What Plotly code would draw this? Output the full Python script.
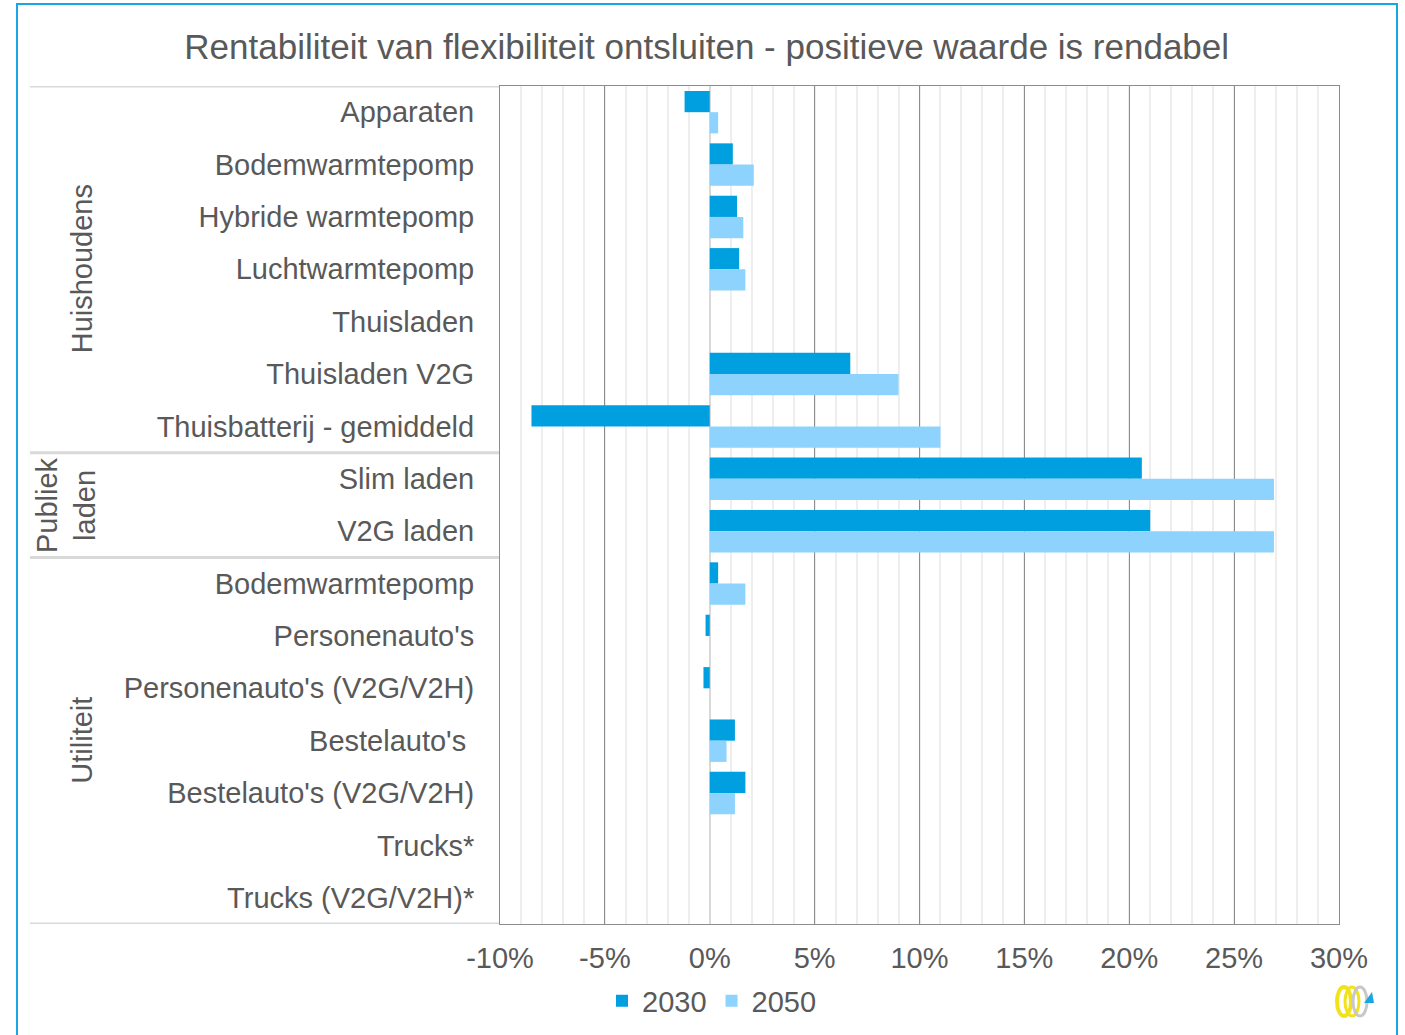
import plotly.graph_objects as go

categories = [
    "Apparaten", "Bodemwarmtepomp", "Hybride warmtepomp", "Luchtwarmtepomp",
    "Thuisladen", "Thuisladen V2G", "Thuisbatterij - gemiddeld",
    "Slim laden", "V2G laden",
    "Bodemwarmtepomp", "Personenauto's", "Personenauto's (V2G/V2H)",
    "Bestelauto's ", "Bestelauto's (V2G/V2H)", "Trucks*", "Trucks (V2G/V2H)*",
]

values_2030 = [-1.2, 1.1, 1.3, 1.4, None, 6.7, -8.5, 20.6, 21.0,
               0.4, -0.2, -0.3, 1.2, 1.7, None, None]
values_2050 = [0.4, 2.1, 1.6, 1.7, None, 9.0, 11.0, 26.9, 26.9,
               1.7, None, None, 0.8, 1.2, None, None]

groups = ["Huishoudens", "Publiek<br>laden", "Utiliteit"]
group_sizes = [7, 2, 7]

x_tickvals = [-10, -5, 0, 5, 10, 15, 20, 25, 30]
x_ticktext = ["-10%", "-5%", "0%", "5%", "10%", "15%", "20%", "25%", "30%"]

C2030 = "#009FE0"
C2050 = "#8ED3FE"
TXT = "#595959"
FONT = "Liberation Sans, Arial, sans-serif"

n = len(categories)
ypos = list(range(n))

fig = go.Figure()
fig.add_trace(go.Bar(name="2030", y=ypos, x=values_2030, orientation="h",
                     marker=dict(color=C2030, line=dict(width=0))))
fig.add_trace(go.Bar(name="2050", y=ypos, x=values_2050, orientation="h",
                     marker=dict(color=C2050, line=dict(width=0))))

# plot-area geometry in pixels
W, H = 1405, 1035
L, R, T, B = 500, 1339, 86, 924
pw, ph = R - L, B - T


def px_x(p):
    return (p - L) / pw


def px_y(p):
    return (B - p) / ph


shapes = []
annotations = []

# group separators and labels
start = 0
bounds = [-0.5]
for g, size in zip(groups, group_sizes):
    end = start + size
    bounds.append(end - 0.5)
    mid = (start + end - 1) / 2
    annotations.append(dict(
        text=g, xref="paper", yref="y", x=px_x(82 if "<br>" not in g else 66), y=mid,
        textangle=-90, showarrow=False, xanchor="center", yanchor="middle",
        font=dict(size=29, color=TXT, family=FONT), align="center"))
    start = end

for b in bounds:
    shapes.append(dict(type="line", xref="paper", yref="y",
                       x0=px_x(30), x1=0, y0=b, y1=b,
                       line=dict(color="#d9d9d9", width=3), layer="below"))

# outer frame (light blue)
shapes.append(dict(type="rect", xref="paper", yref="paper",
                   x0=px_x(17), x1=px_x(1397), y0=px_y(1045), y1=px_y(4),
                   line=dict(color="#1AA6E4", width=2), fillcolor="rgba(0,0,0,0)",
                   layer="below"))

# small logo at bottom right
shapes.append(dict(type="circle", xref="paper", yref="paper",
                   x0=px_x(1337), x1=px_x(1351), y0=px_y(1016), y1=px_y(987),
                   line=dict(color="#F2E21A", width=4)))
shapes.append(dict(type="circle", xref="paper", yref="paper",
                   x0=px_x(1345), x1=px_x(1359), y0=px_y(1016), y1=px_y(987),
                   line=dict(color="#F2E21A", width=3)))
shapes.append(dict(type="circle", xref="paper", yref="paper",
                   x0=px_x(1353), x1=px_x(1367), y0=px_y(1016), y1=px_y(987),
                   line=dict(color="#C8C8C8", width=3)))
shapes.append(dict(type="path", xref="paper", yref="paper",
                   path=f"M {px_x(1364)},{px_y(1003)} L {px_x(1374)},{px_y(1003)} L {px_x(1372)},{px_y(992)} Z",
                   fillcolor="#1AA6E4", line=dict(width=0)))

fig.update_layout(
    width=W, height=H,
    margin=dict(l=L, r=W - R, t=T, b=H - B, autoexpand=False),
    paper_bgcolor="white", plot_bgcolor="white",
    barmode="group", bargap=0.19, bargroupgap=0,
    font=dict(family=FONT, color=TXT, size=28),
    title=dict(text="Rentabiliteit van flexibiliteit ontsluiten - positieve waarde is rendabel",
               xref="container", yref="container", x=0.503, y=1 - 47 / H,
               xanchor="center", yanchor="middle",
               font=dict(size=35, color=TXT, family=FONT)),
    xaxis=dict(range=[-10, 30], tickvals=x_tickvals, ticktext=x_ticktext,
               showgrid=True, gridcolor="#8c8c8c", gridwidth=1,
               minor=dict(dtick=1, showgrid=True, gridcolor="#eeeeee", gridwidth=2),
               zeroline=True, zerolinecolor="#d9d9d9", zerolinewidth=2,
               showline=True, linecolor="#8c8c8c", linewidth=1, mirror=True,
               ticks="", ticklabelstandoff=8, automargin=False,
               tickfont=dict(size=29, color=TXT, family=FONT), fixedrange=True),
    yaxis=dict(range=[n - 0.5, -0.5], tickvals=ypos, ticktext=categories,
               showgrid=False, zeroline=False,
               showline=True, linecolor="#8c8c8c", linewidth=1, mirror=True,
               ticks="", ticklabelstandoff=19, automargin=False,
               tickfont=dict(size=29, color=TXT, family=FONT), fixedrange=True),
    legend=dict(orientation="h", xref="container", yref="container",
                x=712 / W, y=1 - 1001 / H, xanchor="center", yanchor="middle",
                font=dict(size=29, color=TXT, family=FONT),
                itemwidth=30, tracegroupgap=0, bgcolor="rgba(0,0,0,0)"),
    shapes=shapes, annotations=annotations,
)

fig.write_html("out.html", config={"displayModeBar": False},
               post_script="document.body.style.margin='0';document.body.style.padding='0';")
